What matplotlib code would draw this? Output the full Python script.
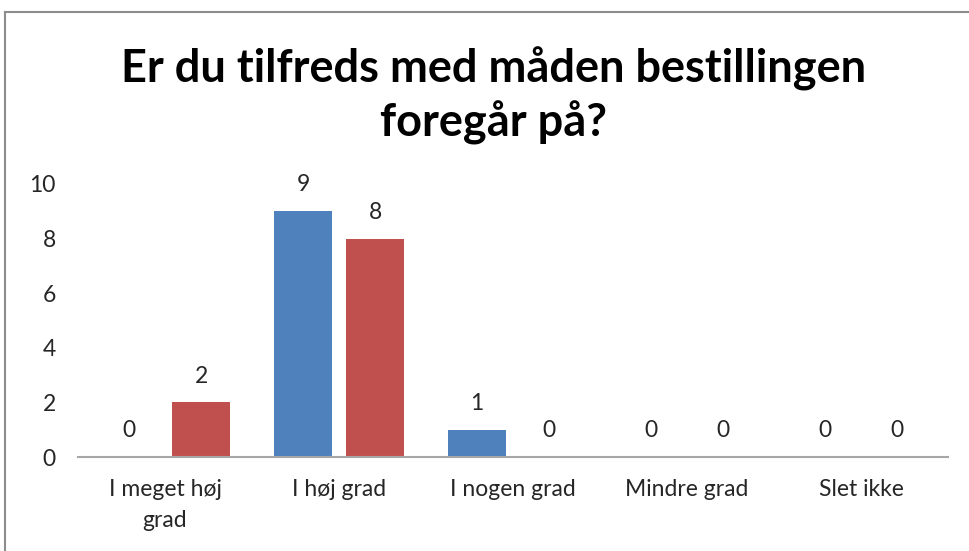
import numpy as np
import matplotlib
matplotlib.use("Agg")
import matplotlib.pyplot as plt
from matplotlib.lines import Line2D

categories = ["I meget høj\ngrad", "I høj grad", "I nogen grad", "Mindre grad", "Slet ikke"]
series_a = [0, 9, 1, 0, 0]
series_b = [2, 8, 0, 0, 0]
yticks = [0, 2, 4, 6, 8, 10]
title = "Er du tilfreds med måden bestillingen\nforegår på?"

plt.rcParams["font.family"] = ["Lato", "DejaVu Sans"]
text_color = "#262626"
fs = 16.5

fig = plt.figure(figsize=(9.69, 5.51), dpi=100)
ax = fig.add_axes([78 / 969, 1 - 457 / 551, 870 / 969, 273 / 551])

x = np.arange(len(categories))
w = 0.328
off = 0.207
bars_a = ax.bar(x - off, series_a, w, color="#4F81BD")
bars_b = ax.bar(x + off, series_b, w, color="#C0504D")

for bars, vals in ((bars_a, series_a), (bars_b, series_b)):
    for b, v in zip(bars, vals):
        ax.annotate(str(v), (b.get_x() + b.get_width() / 2, v),
                    xytext=(0, 19), textcoords="offset points",
                    ha="center", va="center", fontsize=fs, color=text_color)

ax.set_xlim(-0.5, len(categories) - 0.5)
ax.set_ylim(0, 10)
ax.set_yticks(yticks)
ax.set_xticks(x)
ax.set_xticklabels(categories, fontsize=fs, color=text_color, linespacing=1.55)
ax.tick_params(axis="y", length=0, pad=16, labelsize=fs, labelcolor=text_color)
ax.tick_params(axis="x", length=0, pad=16)
for s in ("top", "right", "left"):
    ax.spines[s].set_visible(False)
ax.spines["bottom"].set_color("#A6A6A6")
ax.spines["bottom"].set_linewidth(1.5)

fig.text(494 / 969, 1 - 96 / 551, title, ha="center", va="center",
         fontsize=32.5, fontweight="bold", color="black", linespacing=1.28)

# chart frame (left and top edges visible)
fig.add_artist(Line2D([5 / 969, 5 / 969], [0, 1 - 12 / 551], transform=fig.transFigure,
                      color="#8C8C8C", lw=1.5))
fig.add_artist(Line2D([5 / 969, 1], [1 - 12 / 551, 1 - 12 / 551], transform=fig.transFigure,
                      color="#8C8C8C", lw=1.5))

fig.savefig("out.png", dpi=100)
